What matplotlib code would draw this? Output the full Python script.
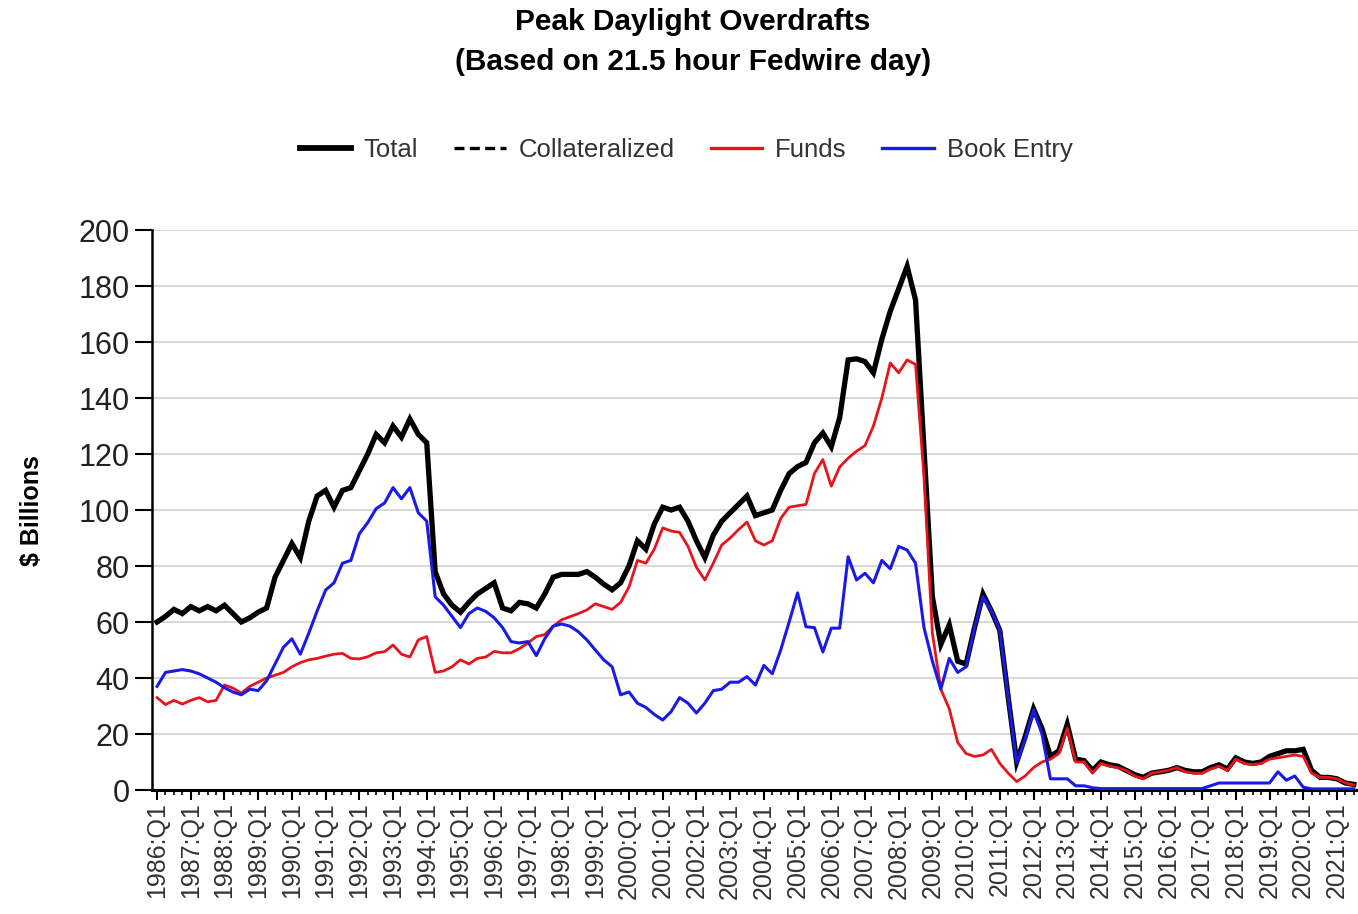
import matplotlib
matplotlib.use("Agg")
import matplotlib.pyplot as plt
from matplotlib.lines import Line2D
import numpy as np

plt.rcParams['font.family'] = ['Liberation Sans', 'DejaVu Sans']

# quarterly values, 1986:Q1 .. 2021:Q3 ($ billions)
total = [
    60, 62, 64.5, 63,        # 1986
    65.5, 64, 65.5, 64,      # 1987
    66, 63, 60, 61.5,        # 1988
    63.5, 65, 76, 82,        # 1989
    88, 83, 96, 105,         # 1990
    107, 101, 107, 108,      # 1991
    114, 120, 127, 124,      # 1992
    130, 126, 132.5, 127,    # 1993
    124, 78, 70, 66,         # 1994
    63.5, 67, 70, 72,        # 1995
    74, 65, 64, 67,          # 1996
    66.5, 65, 70, 76,        # 1997
    77, 77, 77, 78,          # 1998
    76, 73.5, 71.5, 74,      # 1999
    80, 89, 86, 95,          # 2000
    101, 100, 101, 96,       # 2001
    89, 83, 91, 96,          # 2002
    99, 102, 105, 98,        # 2003
    99, 100, 107, 113,       # 2004
    115.5, 117, 124, 127.5,  # 2005
    122.6, 133, 153.6, 154,  # 2006
    153, 149, 161, 171,      # 2007
    179, 187, 175, 122,      # 2008
    69, 52, 59, 46,          # 2009
    45, 58, 70, 64,          # 2010
    57, 33, 10, 19,          # 2011
    29, 22, 12, 14,          # 2012
    23.5, 11, 10.5, 7,       # 2013
    10, 9, 8.5, 7,           # 2014
    5.5, 4.5, 6, 6.5,        # 2015
    7, 8, 7, 6.5,            # 2016
    6.5, 8, 9, 7.5,          # 2017
    11.5, 10, 9.5, 10,       # 2018
    12, 13, 14, 14,          # 2019
    14.5, 7, 4.5, 4.5,       # 2020
    4, 2.5, 2,               # 2021
]

funds = [
    33, 30.5, 32, 30.7,
    32, 33, 31.5, 32,
    37.5, 36.4, 34.6, 37,
    38.5, 40, 41, 42,
    44, 45.5, 46.5, 47,
    47.8, 48.5, 48.8, 47,
    46.8, 47.6, 49, 49.4,
    51.8, 48.5, 47.5, 53.6,
    54.8, 42, 42.5, 44,
    46.5, 45, 47, 47.5,
    49.5, 49, 49, 50.5,
    52.5, 54.8, 55.5, 58.5,
    60.8, 61.9, 63, 64.3,
    66.5, 65.5, 64.5, 67,
    72.5, 82, 81, 86,
    93.6, 92.5, 92, 87,
    79.5, 75, 81, 87.5,
    90, 93, 95.7, 89,
    87.5, 89, 97, 101,
    101.5, 102, 113, 118,
    108.5, 115.4, 118.5, 121,
    123, 130, 140, 152.5,
    149, 153.6, 152, 112,
    56, 36, 29, 17,
    13, 12, 12.5, 14.5,
    9.5, 6, 3, 5,
    8, 10, 11, 13,
    22, 10, 10, 6,
    9.5, 8.5, 8, 7,
    5, 4, 6, 6.5,
    7, 8, 6.5, 6,
    6, 7.5, 8.5, 7,
    11, 9.5, 9, 9.5,
    11, 11.5, 12, 12.5,
    12, 6, 4.5, 4.5,
    4, 2.5, 1.8,
]

book_entry = [
    37, 42, 42.5, 43,
    42.5, 41.5, 40, 38.5,
    36.5, 35, 34, 36,
    35.5, 39, 45, 51,
    54, 48.5, 56, 64,
    71.4, 74, 81, 82,
    91.5, 95.5, 100.5, 102.5,
    108, 104, 108, 99,
    96, 69, 66, 62,
    58, 63, 65, 63.8,
    61.5, 58, 53, 52.5,
    53, 48, 54, 58.5,
    59.3, 58.5, 56.5, 53.6,
    50, 46.5, 44, 34,
    35, 31, 29.5, 27,
    25, 28, 33, 31,
    27.5, 31, 35.5, 36,
    38.5, 38.5, 40.5, 37.5,
    44.5, 41.5, 50, 60,
    70.4, 58.3, 58, 49.3,
    57.8, 57.8, 83.3, 75,
    77.4, 74, 82, 79,
    87, 85.7, 81, 58,
    46, 36, 47, 42,
    44, 58, 69, 64,
    57, 33, 9.6, 18,
    28.6, 20, 4, 4,
    4, 1.5, 1.5, 0.8,
    0.5, 0.5, 0.5, 0.5,
    0.5, 0.5, 0.5, 0.5,
    0.5, 0.5, 0.5, 0.5,
    0.5, 1.5, 2.5, 2.5,
    2.5, 2.5, 2.5, 2.5,
    2.5, 6.5, 3.5, 5,
    1, 0.4, 0.4, 0.4,
    0.4, 0.4, 0.4,
]

years = list(range(1986, 2022))
tick_labels = [f"{y}:Q1" for y in years]

x = np.arange(len(total))

fig = plt.figure(figsize=(13.58, 9.14), dpi=100)
ax = fig.add_axes([152 / 1358, 1 - 790 / 914, (1358 - 152) / 1358, (790 - 230) / 914])

ax.plot(x, total, color='black', lw=3.8, zorder=3, solid_joinstyle='miter')
ax.plot(x, funds, color='#e8141b', lw=2.0, zorder=4)
ax.plot(x, book_entry, color='#1a1ae6', lw=2.2, zorder=5)

ax.set_ylim(0, 200)
ax.set_xlim(-0.6, 142.5)
ax.set_yticks(range(0, 201, 20))
ax.set_xticks(np.arange(0, len(years) * 4, 4))
ax.set_xticklabels(tick_labels, rotation=90)
ax.set_xticks(x, minor=True)

ax.yaxis.grid(True, color='#d6d6d6', lw=1.3)
ax.set_axisbelow(True)

for s in ['top', 'right']:
    ax.spines[s].set_visible(False)
ax.spines['left'].set_linewidth(1.8)
ax.spines['bottom'].set_linewidth(2.2)

ax.tick_params(axis='y', length=12, width=1.5, labelsize=22, labelcolor='#222222', pad=4)
ax.tick_params(axis='x', which='major', length=7, width=1.5, labelsize=18, labelcolor='#333333', pad=2)
ax.tick_params(axis='x', which='minor', length=3.5, width=1.2)

fig.text(693 / 1358, 1 - 8 / 914, "Peak Daylight Overdrafts\n(Based on 21.5 hour Fedwire day)",
         ha='center', va='top', fontsize=21.5, fontweight='bold', linespacing=1.55)

fig.text(32 / 1358, 1 - 511 / 914, "$ Billions", rotation=90, ha='center', va='center',
         fontsize=18, fontweight='bold')

handles = [
    Line2D([], [], color='black', lw=4.2),
    Line2D([], [], color='black', lw=2.4, ls=(0, (3, 1.6))),
    Line2D([], [], color='#e8141b', lw=2.4),
    Line2D([], [], color='#1a1ae6', lw=2.4),
]
fig.legend(handles, ['Total', 'Collateralized', 'Funds', 'Book Entry'],
           loc='center', bbox_to_anchor=(686 / 1358, 1 - 150 / 914), ncol=4,
           frameon=False, fontsize=18.5, handlelength=2.0, handletextpad=0.5,
           columnspacing=1.4, labelcolor='#333333')

fig.savefig('out.png', dpi=100)
